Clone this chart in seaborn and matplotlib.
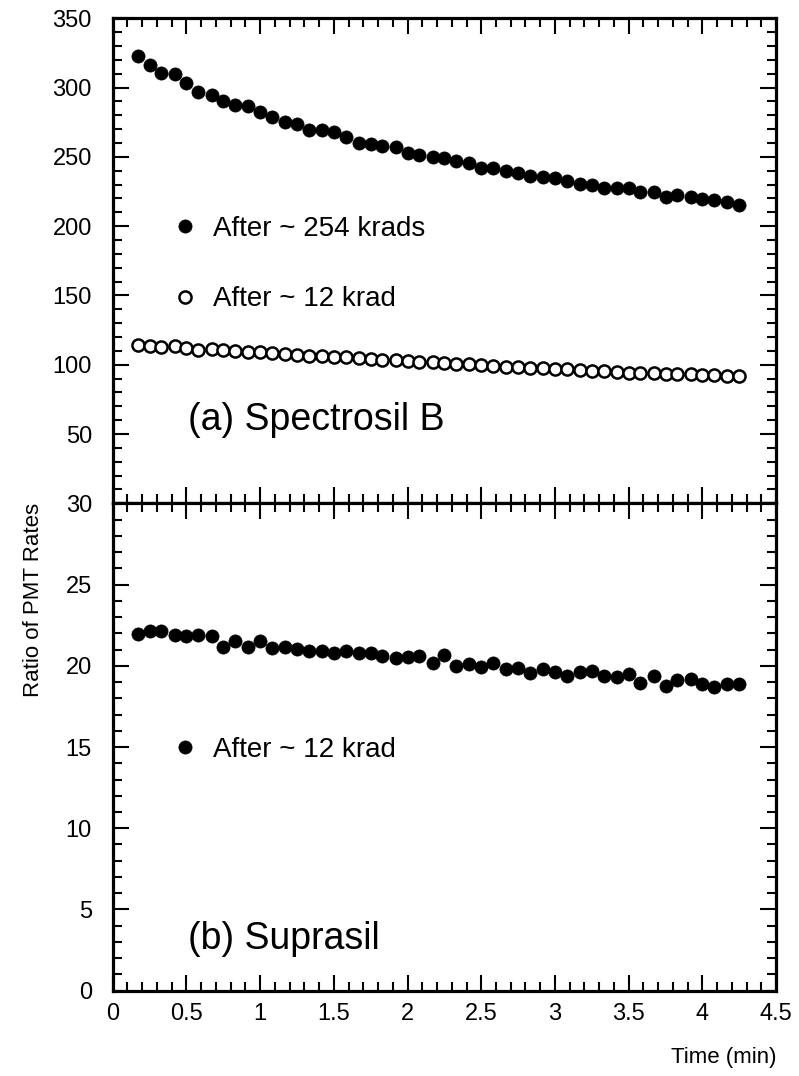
import matplotlib
matplotlib.use("Agg")
import matplotlib.pyplot as plt
import seaborn as sns
import pandas as pd
from matplotlib.ticker import MultipleLocator

#%% data
# time of each reading (min)
time_min = [0.17, 0.25, 0.33, 0.42, 0.50, 0.58, 0.67, 0.75, 0.83, 0.92,
            1.00, 1.08, 1.17, 1.25, 1.33, 1.42, 1.50, 1.58, 1.67, 1.75,
            1.83, 1.92, 2.00, 2.08, 2.17, 2.25, 2.33, 2.42, 2.50, 2.58,
            2.67, 2.75, 2.83, 2.92, 3.00, 3.08, 3.17, 3.25, 3.33, 3.42,
            3.50, 3.58, 3.67, 3.75, 3.83, 3.92, 4.00, 4.08, 4.17, 4.25]

# (a) Spectrosil B, after ~254 krads
spectrosil_254 = [322.8, 316.3, 310.8, 309.8, 303.5, 297.0, 294.7, 290.3, 287.2, 286.9,
                  282.4, 278.6, 275.4, 273.7, 269.2, 269.2, 267.7, 264.6, 260.2, 259.5,
                  258.1, 256.9, 252.6, 251.1, 250.0, 249.0, 247.3, 245.8, 242.2, 242.2,
                  240.0, 238.1, 236.4, 235.3, 235.0, 232.8, 230.2, 229.7, 227.5, 227.3,
                  227.5, 224.7, 224.7, 221.3, 222.3, 221.0, 219.6, 219.1, 217.7, 215.3]

# (a) Spectrosil B, after ~12 krad
spectrosil_12 = [114.0, 113.8, 113.0, 113.5, 112.0, 111.0, 111.5, 110.3, 110.0, 109.4,
                 109.0, 108.5, 108.0, 107.3, 106.6, 106.2, 105.5, 105.3, 104.6, 104.2,
                 103.5, 103.3, 102.6, 102.0, 102.2, 101.4, 100.6, 100.3, 99.7, 99.4,
                 98.6, 98.3, 97.7, 98.0, 97.2, 96.6, 96.3, 95.6, 95.2, 94.6,
                 94.4, 94.0, 94.0, 93.4, 93.1, 93.2, 92.6, 92.4, 91.6, 92.0]

# (b) Suprasil, after ~12 krad
suprasil_12 = [21.95, 22.16, 22.16, 21.89, 21.83, 21.89, 21.83, 21.17, 21.54, 21.13,
               21.54, 21.07, 21.13, 21.01, 20.91, 20.91, 20.76, 20.91, 20.76, 20.76,
               20.62, 20.50, 20.56, 20.62, 20.15, 20.66, 19.98, 20.09, 19.90, 20.15,
               19.80, 19.88, 19.53, 19.78, 19.60, 19.37, 19.60, 19.68, 19.39, 19.33,
               19.49, 18.92, 19.37, 18.75, 19.12, 19.17, 18.88, 18.71, 18.86, 18.86]

top_yticks = [0, 50, 100, 150, 200, 250, 300, 350]
top_yticklabels = ["", "50", "100", "150", "200", "250", "300", "350"]
bottom_yticks = [0, 5, 10, 15, 20, 25, 30]
xticks = [0, 0.5, 1, 1.5, 2, 2.5, 3, 3.5, 4, 4.5]
xticklabels = ["0", "0.5", "1", "1.5", "2", "2.5", "3", "3.5", "4", "4.5"]

spectrosil_df = pd.DataFrame({"time": time_min,
                              "high_dose": spectrosil_254,
                              "low_dose": spectrosil_12})
suprasil_df = pd.DataFrame({"time": time_min, "low_dose": suprasil_12})

#%% style
sns.set_style("ticks")
plt.rcParams["font.family"] = ["Liberation Sans", "DejaVu Sans"]
plt.rcParams["text.color"] = "black"
plt.rcParams["axes.labelcolor"] = "black"

fig = plt.figure(figsize=(7.99, 10.76), dpi=100)
ax_top = fig.add_axes([0.1411, 0.5322, 0.8302, 0.4508])
ax_bot = fig.add_axes([0.1411, 0.0793, 0.8302, 0.4529])

marker_size = 90
tick_fs = 17
legend_fs = 20

# top panel: Spectrosil B
sns.scatterplot(data=spectrosil_df, x="time", y="high_dose", ax=ax_top,
                color="black", edgecolor="black", s=marker_size, linewidth=0.5,
                label="After ~ 254 krads")
sns.scatterplot(data=spectrosil_df, x="time", y="low_dose", ax=ax_top,
                facecolor="white", edgecolor="black", s=marker_size - 14,
                linewidth=1.8, label="After ~ 12 krad")

# bottom panel: Suprasil
sns.scatterplot(data=suprasil_df, x="time", y="low_dose", ax=ax_bot,
                color="black", edgecolor="black", s=marker_size, linewidth=0.5,
                label="After ~ 12 krad")

ax_top.set_ylim(0, 350)
ax_bot.set_ylim(0, 30)

for ax in (ax_top, ax_bot):
    ax.set_xlim(0, 4.5)
    ax.set_xticks(xticks)
    ax.xaxis.set_minor_locator(MultipleLocator(0.1))
    for spine in ax.spines.values():
        spine.set_visible(True)
        spine.set_linewidth(2.3)
        spine.set_color("black")
    ax.tick_params(which="both", direction="in", top=True, right=True,
                   width=1.5, labelsize=tick_fs, colors="black")
    ax.tick_params(which="major", length=11.5)
    ax.tick_params(which="minor", length=6.5)
    ax.tick_params(axis="y", which="major", pad=15)
    ax.tick_params(axis="x", which="major", pad=9)
    ax.set_xlabel("")
    ax.set_ylabel("")

ax_top.set_yticks(top_yticks)
ax_top.set_yticklabels(top_yticklabels)
ax_top.yaxis.set_minor_locator(MultipleLocator(10))
ax_top.tick_params(axis="x", labelbottom=False)

ax_bot.set_yticks(bottom_yticks)
ax_bot.yaxis.set_minor_locator(MultipleLocator(1))
ax_bot.set_xticklabels(xticklabels)

# legends
legend_kw = dict(loc="center left", frameon=False, fontsize=legend_fs,
                 borderpad=0, borderaxespad=0, handlelength=0.8,
                 handletextpad=0.6, scatteryoffsets=[0.5])
ax_top.legend(bbox_to_anchor=(0.0924, 0.493), labelspacing=1.6, **legend_kw)
ax_bot.legend(bbox_to_anchor=(0.0924, 0.4937), **legend_kw)

# panel labels
ax_top.text(0.1135, 0.172, "(a) Spectrosil B", transform=ax_top.transAxes,
            fontsize=27, va="center", ha="left")
ax_bot.text(0.1135, 0.106, "(b) Suprasil", transform=ax_bot.transAxes,
            fontsize=27, va="center", ha="left")

# axis titles, ROOT style
ax_bot.set_xlabel("Time (min)", fontsize=16, loc="right", labelpad=16)
ax_bot.set_ylabel("Ratio of PMT Rates", fontsize=16, loc="top")
ax_bot.yaxis.set_label_coords(-0.104, 1.0)

fig.savefig("out.png", dpi=100)
